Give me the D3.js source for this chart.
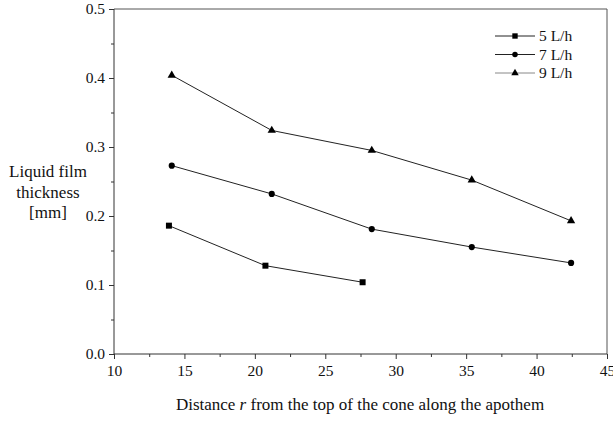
<!DOCTYPE html>
<html>
<head>
<meta charset="utf-8">
<script src="https://cdn.jsdelivr.net/npm/d3@7"></script>
<style>
  body { margin: 0; background: #fff; }
  svg { display: block; font-family: "Liberation Serif", "Times New Roman", serif; }
</style>
</head>
<body>
<svg id="chart" width="613" height="424"></svg>
<script>
// series data
const seriesNames = ["5 L/h", "7 L/h", "9 L/h"];
const r5 = [13.9, 20.75, 27.65];
const t5 = [0.186, 0.128, 0.104];
const r7 = [14.1, 21.2, 28.3, 35.4, 42.45];
const t7 = [0.273, 0.232, 0.181, 0.155, 0.132];
const r9 = [14.1, 21.2, 28.3, 35.4, 42.45];
const t9 = [0.404, 0.324, 0.295, 0.252, 0.193];
const xTicks = [10, 15, 20, 25, 30, 35, 40, 45];
const yTicks = [0.0, 0.1, 0.2, 0.3, 0.4, 0.5];

const svg = d3.select("#chart");
const mLeft = 114, mRight = 607, mTop = 9, mBottom = 354;

const x = d3.scaleLinear().domain([10, 45]).range([mLeft, mRight]);
const y = d3.scaleLinear().domain([0, 0.5]).range([mBottom, mTop]);

// frame (top and right)
svg.append("line").attr("x1", mLeft).attr("x2", mRight).attr("y1", mTop).attr("y2", mTop)
    .attr("stroke", "#555").attr("stroke-width", 1);
svg.append("line").attr("x1", mRight).attr("x2", mRight).attr("y1", mTop).attr("y2", mBottom)
    .attr("stroke", "#555").attr("stroke-width", 1);

// minor ticks
const xMinor = d3.range(12.5, 45, 5);
const yMinor = d3.range(0.05, 0.5, 0.1);

const xAxis = svg.append("g").attr("transform", `translate(0,${mBottom})`)
    .call(d3.axisBottom(x).tickValues(xTicks).tickFormat(d3.format("d")).tickSize(5).tickPadding(6));
svg.append("g").attr("transform", `translate(0,${mBottom})`)
    .call(d3.axisBottom(x).tickValues(xMinor).tickFormat("").tickSize(3))
    .select(".domain").remove();

const yAxis = svg.append("g").attr("transform", `translate(${mLeft},0)`)
    .call(d3.axisLeft(y).tickValues(yTicks).tickFormat(d3.format(".1f")).tickSize(5).tickPadding(4));
svg.append("g").attr("transform", `translate(${mLeft},0)`)
    .call(d3.axisLeft(y).tickValues(yMinor).tickFormat("").tickSize(3))
    .select(".domain").remove();

svg.selectAll(".domain").attr("stroke", "#333");
svg.selectAll(".tick line").attr("stroke", "#333");
svg.selectAll(".tick text").attr("fill", "#111")
    .style("font-family", "'Liberation Serif', serif").style("font-size", "15.5px");
xAxis.selectAll(".domain").attr("d", `M${mLeft},0H${mRight}`);
yAxis.selectAll(".domain").attr("d", `M0,${mTop}V${mBottom}`);

const line = d3.line().x(d => x(d[0])).y(d => y(d[1]));
const series = [
    { name: seriesNames[0], pts: d3.zip(r5, t5), sym: d3.symbolSquare, size: 36 },
    { name: seriesNames[1], pts: d3.zip(r7, t7), sym: d3.symbolCircle, size: 30 },
    { name: seriesNames[2], pts: d3.zip(r9, t9), sym: d3.symbolTriangle, size: 30 }
];

series.forEach(function(s) {
    svg.append("path").datum(s.pts).attr("d", line)
        .attr("fill", "none").attr("stroke", "#222").attr("stroke-width", 1);
    svg.selectAll(null).data(s.pts).enter().append("path")
        .attr("d", d3.symbol().type(s.sym).size(s.size))
        .attr("transform", d => `translate(${x(d[0])},${y(d[1])})`)
        .attr("fill", "#000");
});

// legend
const legend = svg.append("g").attr("transform", "translate(495,36)");
series.forEach(function(s, i) {
    const g = legend.append("g").attr("transform", `translate(0,${i * 18.5})`);
    g.append("line").attr("x1", 0).attr("x2", 40).attr("y1", 0).attr("y2", 0)
        .attr("stroke", i === 2 ? "#888" : "#222").attr("stroke-width", 1);
    g.append("path").attr("d", d3.symbol().type(s.sym).size(s.size * 0.8))
        .attr("transform", "translate(20,0)").attr("fill", "#000");
    g.append("text").attr("x", 44).attr("y", 5).text(s.name)
        .attr("fill", "#111").style("font-size", "15.5px");
});

// axis titles
const yTitle = svg.append("text").attr("text-anchor", "middle")
    .attr("fill", "#111").style("font-size", "17px");
["Liquid film", "thickness", "[mm]"].forEach(function(t, i) {
    yTitle.append("tspan").attr("x", 48).attr("y", 177 + i * 20.5).text(t);
});

svg.append("text").attr("x", 360).attr("y", 410).attr("text-anchor", "middle")
    .attr("fill", "#111").style("font-size", "17px")
    .html("Distance <tspan font-style='italic'>r</tspan> from the top of the cone along the apothem");
</script>
</body>
</html>
